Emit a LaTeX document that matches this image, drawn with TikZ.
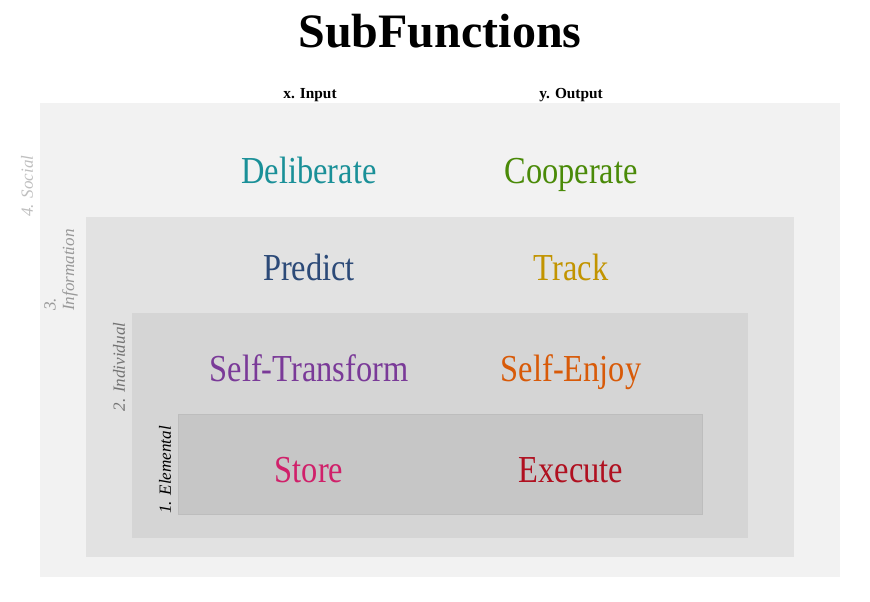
\documentclass[tikz,border=0pt]{standalone}
\usepackage{fontspec}
\setmainfont{Liberation Serif}
\newfontfamily\lblfont[FakeStretch=0.85]{Liberation Serif}
\definecolor{cSocial}{HTML}{F2F2F2}
\definecolor{cInfo}{HTML}{E2E2E2}
\definecolor{cIndiv}{HTML}{D5D5D5}
\definecolor{cElem}{HTML}{C6C6C6}
\definecolor{cElemB}{HTML}{BDBDBD}
\definecolor{cDelib}{HTML}{1A9098}
\definecolor{cCoop}{HTML}{4A8A08}
\definecolor{cPred}{HTML}{2C4A78}
\definecolor{cTrack}{HTML}{C29400}
\definecolor{cSelfT}{HTML}{7A3A98}
\definecolor{cSelfE}{HTML}{D85A08}
\definecolor{cStore}{HTML}{D0206A}
\definecolor{cExec}{HTML}{B01020}
\begin{document}
\begin{tikzpicture}[x=0.75pt,y=-0.75pt,
  func/.style={inner sep=0pt,anchor=base,font=\lblfont\fontsize{28.6}{32}\selectfont},
  axis/.style={inner sep=0pt,anchor=base,font=\bfseries\fontsize{11.5}{13}\selectfont},
  side/.style={inner sep=0pt,rotate=90,align=center,font=\itshape\fontsize{12.8}{14}\selectfont}]
\useasboundingbox (0,0) rectangle (870,602);
\fill[cSocial] (40,103) rectangle (840,577);
\fill[cInfo] (86,217) rectangle (794,557);
\fill[cIndiv] (132,313) rectangle (748,538);
\filldraw[fill=cElem,draw=cElemB,line width=0.5pt] (178,414) rectangle (702,514);
\node[inner sep=0pt,anchor=base,font=\bfseries\fontsize{36}{40}\selectfont] (title) at (440,48) {SubFunctions};
\node[axis] (xin) at (310,99) {x. Input};
\node[axis] (yout) at (571,99) {y. Output};
\node[side,text=black!25] (social) at (27,186) {4. Social};
\node[side,text=black!40,align=left] (info) at (61,270) {3.\\Information};
\node[side,text=black!55] (indiv) at (119,367) {2. Individual};
\node[side,text=black] (elem) at (165,470) {1. Elemental};
\node[func,text=cDelib] (delib) at (309,184) {Deliberate};
\node[func,text=cCoop] (coop) at (571,184) {Cooperate};
\node[func,text=cPred] (pred) at (309,280) {Predict};
\node[func,text=cTrack] (track) at (571,280) {Track};
\node[func,text=cSelfT] (selft) at (309,381) {Self-Transform};
\node[func,text=cSelfE] (selfe) at (571,381) {Self-Enjoy};
\node[func,text=cStore] (store) at (309,482) {Store};
\node[func,text=cExec] (exec) at (571,482) {Execute};
\end{tikzpicture}
\end{document}
